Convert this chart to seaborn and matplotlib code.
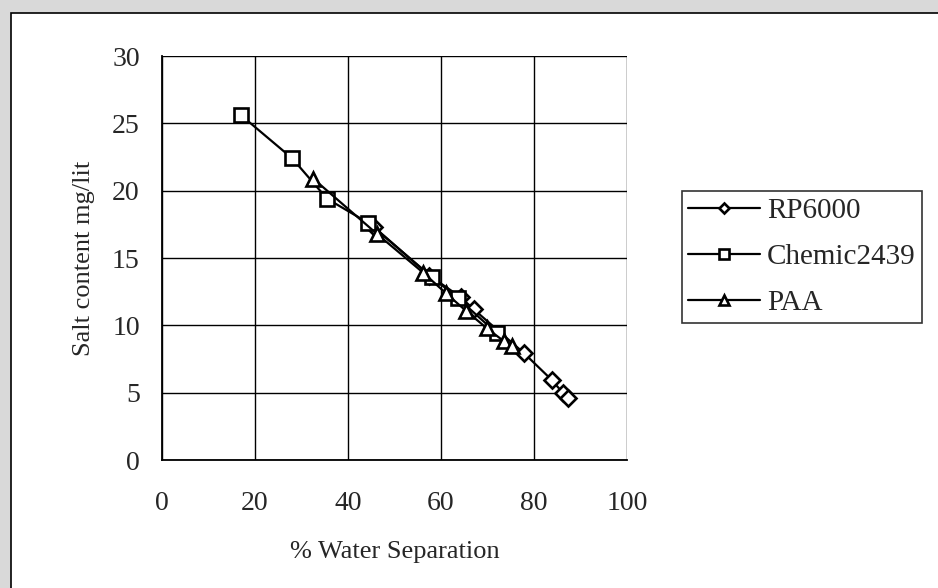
import numpy as np
import pandas as pd
import matplotlib
matplotlib.use("Agg")
import matplotlib.pyplot as plt
import seaborn as sns
from matplotlib.patches import Rectangle

# ------------------------------------------------------------------
# Data
# ------------------------------------------------------------------
rp6000_x = [45.6, 57.5, 64.2, 67.0, 77.8, 83.8, 86.3, 87.4]
rp6000_y = [17.3, 13.7, 12.1, 11.2, 7.95, 5.95, 4.95, 4.6]

chemic_x = [17.0, 28.0, 35.5, 44.4, 58.0, 63.7, 72.0]
chemic_y = [25.6, 22.4, 19.4, 17.6, 13.6, 12.0, 9.4]

paa_x = [32.5, 46.2, 56.2, 61.0, 65.3, 69.8, 73.6, 75.2]
paa_y = [20.9, 16.8, 13.9, 12.4, 11.1, 9.8, 8.8, 8.5]

series_names = ["RP6000", "Chemic2439", "PAA"]
series_markers = {"RP6000": "D", "Chemic2439": "s", "PAA": "^"}
series_sizes = {"RP6000": 8, "Chemic2439": 9.5, "PAA": 10}

x_ticks = [0, 20, 40, 60, 80, 100]
y_ticks = [0, 5, 10, 15, 20, 25, 30]

df = pd.concat([
    pd.DataFrame({"x": rp6000_x, "y": rp6000_y, "Series": "RP6000"}),
    pd.DataFrame({"x": chemic_x, "y": chemic_y, "Series": "Chemic2439"}),
    pd.DataFrame({"x": paa_x, "y": paa_y, "Series": "PAA"}),
], ignore_index=True)

# ------------------------------------------------------------------
# Style
# ------------------------------------------------------------------
sns.set_style("white")
plt.rcParams["font.family"] = ["Liberation Serif", "DejaVu Serif"]
FS = 19
TICK_FS = 20
LEG_FS = 21

fig = plt.figure(figsize=(9.38, 5.88), dpi=100)
fig.patch.set_facecolor("#d9d9d9")
# white chart area with thin black border on left/top
fig.patches.append(Rectangle((11 / 938, -0.1), 1.2, 1 - 13 / 588 + 0.1,
                             transform=fig.transFigure, facecolor="white",
                             edgecolor="black", linewidth=1.2, zorder=-10))

ax = fig.add_axes([162 / 938, 1 - 460 / 588, (627 - 162) / 938, (460 - 56) / 588])
ax.set_facecolor("white")

for name in series_names:
    sub = df[df["Series"] == name]
    sns.lineplot(data=sub, x="x", y="y", ax=ax, color="black", linewidth=1.6,
                 marker=series_markers[name], markersize=series_sizes[name],
                 markerfacecolor="white", markeredgecolor="black",
                 markeredgewidth=1.9, estimator=None, sort=False,
                 label=name, clip_on=False, zorder=3)

ax.set_xlim(0, 100)
ax.set_ylim(0, 30)
ax.set_xticks(x_ticks)
ax.set_yticks(y_ticks)
ax.grid(True, color="black", linewidth=1.0)
ax.set_axisbelow(True)
for side in ["top", "right"]:
    ax.spines[side].set_visible(False)
for side in ["left", "bottom"]:
    ax.spines[side].set_color("black")
    ax.spines[side].set_linewidth(1.3)
ax.tick_params(axis="both", which="major", direction="out", length=9,
               width=1, color="#555555", labelsize=TICK_FS, pad=7)
ax.tick_params(axis="x", pad=13)

ax.set_xlabel("% Water Separation", fontsize=FS, labelpad=18)
ax.set_ylabel("Salt content mg/lit", fontsize=FS, labelpad=12)

leg = ax.legend(loc="center left", bbox_to_anchor=(682 / 938, 1 - 257 / 588),
                bbox_transform=fig.transFigure, fontsize=LEG_FS, frameon=True,
                fancybox=False, edgecolor="black", handlelength=2.45,
                handletextpad=0.25, borderpad=0.22, labelspacing=0.68,
                markerscale=0.7, borderaxespad=0)
leg.get_frame().set_linewidth(1.2)

fig.savefig("out.png", dpi=100, facecolor=fig.get_facecolor())
